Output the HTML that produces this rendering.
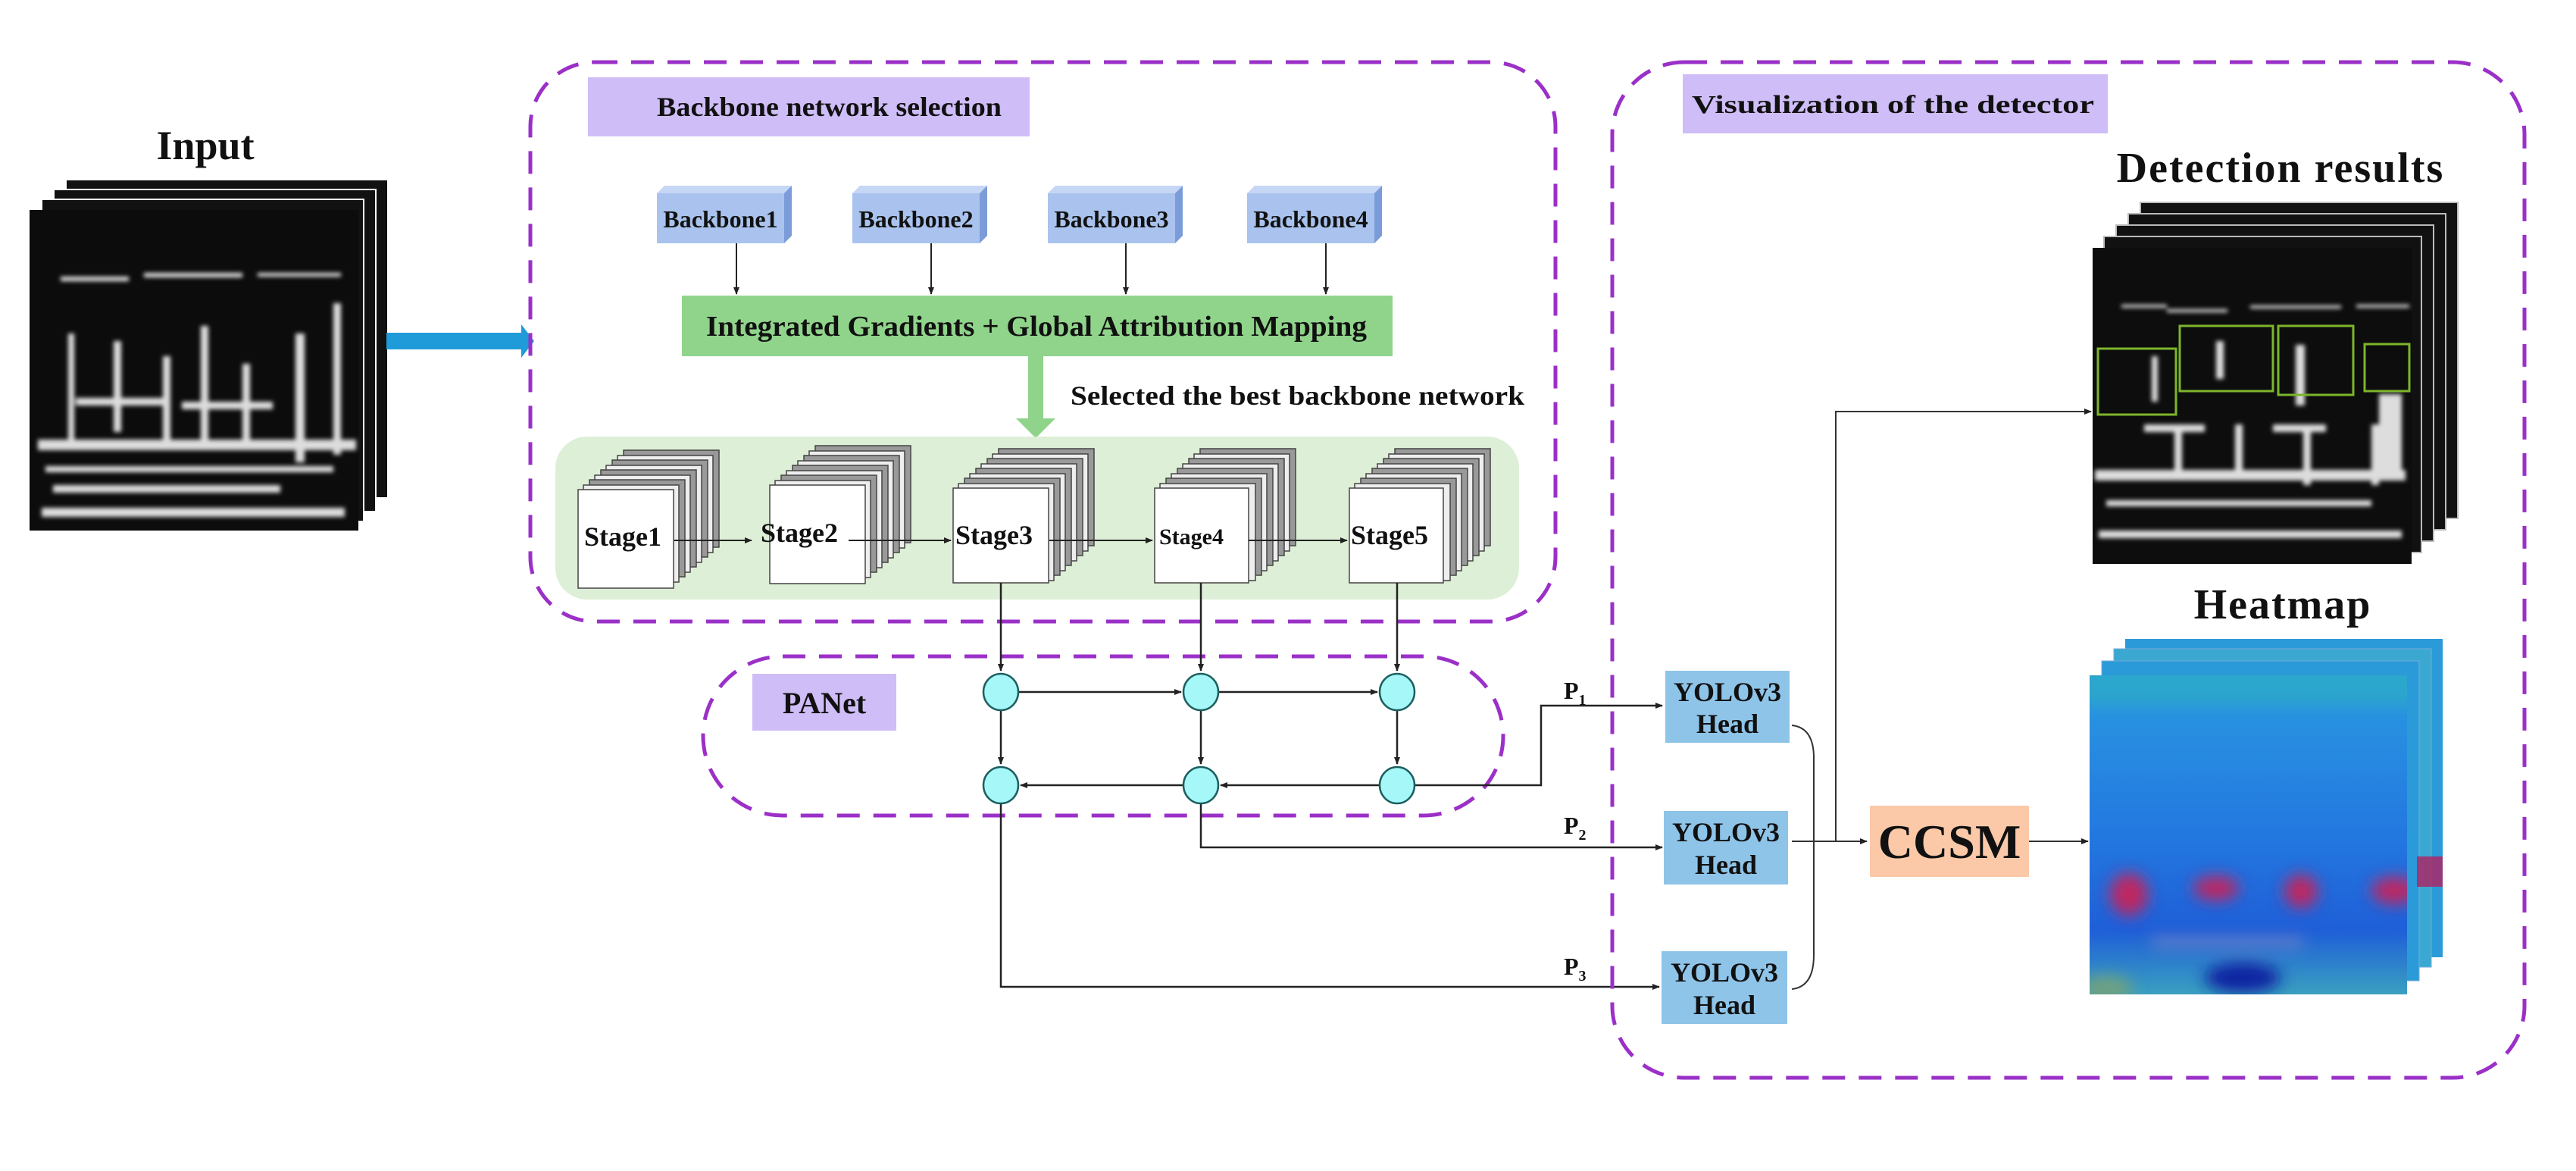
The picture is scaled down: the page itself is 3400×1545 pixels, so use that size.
<!DOCTYPE html>
<html><head><meta charset="utf-8"><style>
html,body{margin:0;padding:0;background:#fff;}
svg{display:block;}
text{font-family:"Liberation Serif",serif;font-weight:bold;fill:#111;}
</style></head><body>
<svg width="3400" height="1545" viewBox="0 0 3400 1545" xmlns="http://www.w3.org/2000/svg">
<defs>
<marker id="ar" markerWidth="10" markerHeight="10" refX="9" refY="5" orient="auto" markerUnits="userSpaceOnUse"><path d="M0,1 L10,5 L0,9 z" fill="#222"/></marker>
<linearGradient id="hm" x1="0" y1="0" x2="0" y2="1">
<stop offset="0" stop-color="#2a9ae0"/><stop offset="0.5" stop-color="#2378e0"/><stop offset="0.8" stop-color="#1f5fd8"/><stop offset="1" stop-color="#3aa0c0"/></linearGradient>
<filter id="bl"><feGaussianBlur stdDeviation="10"/></filter>
<filter id="bl2"><feGaussianBlur stdDeviation="3"/></filter>
<clipPath id="hc"><rect x="2758" y="891" width="419" height="421"/></clipPath>
</defs>

<!-- Input -->
<text x="271" y="210" font-size="54" text-anchor="middle">Input</text>
<g>
<rect x="87" y="237" width="425" height="420" fill="#111" stroke="#fff" stroke-width="2"/>
<rect x="71" y="250" width="425" height="425" fill="#111" stroke="#fff" stroke-width="2"/>
<rect x="55" y="263" width="425" height="425" fill="#111" stroke="#fff" stroke-width="2"/>
<rect x="39" y="277" width="434" height="423" fill="#0c0c0c"/>
<g fill="#ddd" filter="url(#bl2)">
<rect x="80" y="365" width="90" height="6"/><rect x="190" y="360" width="130" height="6"/><rect x="340" y="360" width="110" height="5"/>
<rect x="50" y="580" width="420" height="14"/><rect x="60" y="615" width="380" height="8"/>
<rect x="90" y="440" width="8" height="150"/><rect x="150" y="450" width="10" height="120"/><rect x="215" y="470" width="10" height="110"/><rect x="265" y="430" width="10" height="160"/><rect x="320" y="480" width="10" height="100"/><rect x="390" y="440" width="12" height="170"/><rect x="440" y="400" width="10" height="200"/>
<rect x="100" y="525" width="120" height="10"/><rect x="240" y="530" width="120" height="10"/>
<rect x="70" y="640" width="300" height="10"/><rect x="55" y="670" width="400" height="12"/>
</g>
</g>
<rect x="510" y="439" width="180" height="22" fill="#1e9bd8"/>
<path d="M688,428 L705,450 L688,472 z" fill="#1e9bd8"/>

<!-- Backbone box -->
<rect x="700" y="82" width="1353" height="738" rx="85" fill="none" stroke="#9b30c8" stroke-width="5" stroke-dasharray="30,18"/>
<rect x="776" y="102" width="583" height="78" fill="#cfbdf7"/>
<text x="867" y="153" font-size="36" textLength="455" lengthAdjust="spacingAndGlyphs">Backbone network selection</text>

<g>
<g transform="translate(867,245)"><path d="M0,10 L10,0 L178,0 L168,10 z" fill="#c6d6f5"/><path d="M168,10 L178,0 L178,66 L168,76 z" fill="#7b9cd8"/><rect x="0" y="10" width="168" height="66" fill="#a9c3ee"/><text x="84" y="55" font-size="32" text-anchor="middle">Backbone1</text></g>
<g transform="translate(1125,245)"><path d="M0,10 L10,0 L178,0 L168,10 z" fill="#c6d6f5"/><path d="M168,10 L178,0 L178,66 L168,76 z" fill="#7b9cd8"/><rect x="0" y="10" width="168" height="66" fill="#a9c3ee"/><text x="84" y="55" font-size="32" text-anchor="middle">Backbone2</text></g>
<g transform="translate(1383,245)"><path d="M0,10 L10,0 L178,0 L168,10 z" fill="#c6d6f5"/><path d="M168,10 L178,0 L178,66 L168,76 z" fill="#7b9cd8"/><rect x="0" y="10" width="168" height="66" fill="#a9c3ee"/><text x="84" y="55" font-size="32" text-anchor="middle">Backbone3</text></g>
<g transform="translate(1646,245)"><path d="M0,10 L10,0 L178,0 L168,10 z" fill="#c6d6f5"/><path d="M168,10 L178,0 L178,66 L168,76 z" fill="#7b9cd8"/><rect x="0" y="10" width="168" height="66" fill="#a9c3ee"/><text x="84" y="55" font-size="32" text-anchor="middle">Backbone4</text></g>
</g>
<g stroke="#222" stroke-width="2" marker-end="url(#ar)">
<line x1="972" y1="321" x2="972" y2="388"/><line x1="1229" y1="321" x2="1229" y2="388"/><line x1="1486" y1="321" x2="1486" y2="388"/><line x1="1750" y1="321" x2="1750" y2="388"/>
</g>
<rect x="900" y="390" width="938" height="80" fill="#8fd48a"/>
<text x="932" y="443" font-size="38" textLength="872" lengthAdjust="spacingAndGlyphs">Integrated Gradients + Global Attribution Mapping</text>
<rect x="1357" y="470" width="20" height="85" fill="#8fd48a"/>
<path d="M1341,552 L1393,552 L1367,578 z" fill="#8fd48a"/>
<text x="1413" y="534" font-size="36" textLength="599" lengthAdjust="spacingAndGlyphs">Selected the best backbone network</text>

<rect x="733" y="576" width="1272" height="215" rx="42" fill="#ddefd6"/>

<g stroke="#444" stroke-width="1.5">
<g transform="translate(763,646)">
<rect x="60" y="-52" width="126" height="128" fill="#999"/><rect x="52" y="-45" width="126" height="128" fill="#eee"/><rect x="45" y="-39" width="126" height="128" fill="#999"/><rect x="37" y="-32" width="126" height="128" fill="#eee"/><rect x="30" y="-26" width="126" height="128" fill="#999"/><rect x="22" y="-19" width="126" height="128" fill="#eee"/><rect x="15" y="-13" width="126" height="128" fill="#999"/><rect x="7" y="-6" width="126" height="128" fill="#eee"/>
<rect x="0" y="0" width="126" height="130" fill="#fff"/></g>
<g transform="translate(1016,640)">
<rect x="60" y="-52" width="126" height="128" fill="#999"/><rect x="52" y="-45" width="126" height="128" fill="#eee"/><rect x="45" y="-39" width="126" height="128" fill="#999"/><rect x="37" y="-32" width="126" height="128" fill="#eee"/><rect x="30" y="-26" width="126" height="128" fill="#999"/><rect x="22" y="-19" width="126" height="128" fill="#eee"/><rect x="15" y="-13" width="126" height="128" fill="#999"/><rect x="7" y="-6" width="126" height="128" fill="#eee"/>
<rect x="0" y="0" width="126" height="130" fill="#fff"/></g>
<g transform="translate(1258,644)">
<rect x="60" y="-52" width="126" height="128" fill="#999"/><rect x="52" y="-45" width="126" height="128" fill="#eee"/><rect x="45" y="-39" width="126" height="128" fill="#999"/><rect x="37" y="-32" width="126" height="128" fill="#eee"/><rect x="30" y="-26" width="126" height="128" fill="#999"/><rect x="22" y="-19" width="126" height="128" fill="#eee"/><rect x="15" y="-13" width="126" height="128" fill="#999"/><rect x="7" y="-6" width="126" height="128" fill="#eee"/>
<rect x="0" y="0" width="126" height="125" fill="#fff"/></g>
<g transform="translate(1524,644)">
<rect x="60" y="-52" width="126" height="128" fill="#999"/><rect x="52" y="-45" width="126" height="128" fill="#eee"/><rect x="45" y="-39" width="126" height="128" fill="#999"/><rect x="37" y="-32" width="126" height="128" fill="#eee"/><rect x="30" y="-26" width="126" height="128" fill="#999"/><rect x="22" y="-19" width="126" height="128" fill="#eee"/><rect x="15" y="-13" width="126" height="128" fill="#999"/><rect x="7" y="-6" width="126" height="128" fill="#eee"/>
<rect x="0" y="0" width="124" height="125" fill="#fff"/></g>
<g transform="translate(1781,644)">
<rect x="60" y="-52" width="126" height="128" fill="#999"/><rect x="52" y="-45" width="126" height="128" fill="#eee"/><rect x="45" y="-39" width="126" height="128" fill="#999"/><rect x="37" y="-32" width="126" height="128" fill="#eee"/><rect x="30" y="-26" width="126" height="128" fill="#999"/><rect x="22" y="-19" width="126" height="128" fill="#eee"/><rect x="15" y="-13" width="126" height="128" fill="#999"/><rect x="7" y="-6" width="126" height="128" fill="#eee"/>
<rect x="0" y="0" width="124" height="125" fill="#fff"/></g>
</g>
<g font-size="36">
<text x="771" y="720">Stage1</text>
<text x="1004" y="715">Stage2</text>
<text x="1261" y="718">Stage3</text>
<text x="1530" y="718" font-size="30">Stage4</text>
<text x="1783" y="718">Stage5</text>
</g>
<g stroke="#222" stroke-width="2" marker-end="url(#ar)">
<line x1="890" y1="713" x2="992" y2="713"/>
<line x1="1120" y1="713" x2="1255" y2="713"/>
<line x1="1385" y1="713" x2="1521" y2="713"/>
<line x1="1648" y1="713" x2="1778" y2="713"/>
</g>

<!-- PANet -->
<rect x="928" y="866" width="1056" height="210" rx="105" fill="none" stroke="#9b30c8" stroke-width="5" stroke-dasharray="30,18"/>
<rect x="993" y="889" width="190" height="75" fill="#cfbdf7"/>
<text x="1088" y="941" font-size="40" text-anchor="middle">PANet</text>

<g stroke="#222" stroke-width="2.5" fill="none">
<line x1="1321" y1="769" x2="1321" y2="885" marker-end="url(#ar)"/>
<line x1="1585" y1="769" x2="1585" y2="885" marker-end="url(#ar)"/>
<line x1="1844" y1="769" x2="1844" y2="885" marker-end="url(#ar)"/>
<line x1="1345" y1="913" x2="1559" y2="913" marker-end="url(#ar)"/>
<line x1="1609" y1="913" x2="1818" y2="913" marker-end="url(#ar)"/>
<line x1="1321" y1="937" x2="1321" y2="1008" marker-end="url(#ar)"/>
<line x1="1585" y1="937" x2="1585" y2="1008" marker-end="url(#ar)"/>
<line x1="1844" y1="937" x2="1844" y2="1008" marker-end="url(#ar)"/>
<line x1="1820" y1="1036" x2="1611" y2="1036" marker-end="url(#ar)"/>
<line x1="1561" y1="1036" x2="1347" y2="1036" marker-end="url(#ar)"/>
<polyline points="1868,1036 2034,1036 2034,931 2194,931" marker-end="url(#ar)"/>
<polyline points="1585,1060 1585,1118 2194,1118" marker-end="url(#ar)"/>
<polyline points="1321,1060 1321,1302 2190,1302" marker-end="url(#ar)"/>
</g>
<g fill="#a6f8f8" stroke="#1d5f60" stroke-width="2.5">
<ellipse cx="1321" cy="913" rx="23" ry="24"/><ellipse cx="1585" cy="913" rx="23" ry="24"/><ellipse cx="1844" cy="913" rx="23" ry="24"/>
<ellipse cx="1321" cy="1036" rx="23" ry="24"/><ellipse cx="1585" cy="1036" rx="23" ry="24"/><ellipse cx="1844" cy="1036" rx="23" ry="24"/>
</g>
<g font-size="32">
<text x="2064" y="922">P<tspan font-size="20" dy="8">1</tspan></text>
<text x="2064" y="1100">P<tspan font-size="20" dy="8">2</tspan></text>
<text x="2064" y="1286">P<tspan font-size="20" dy="8">3</tspan></text>
</g>

<!-- Visualization box -->
<rect x="2128" y="82" width="1204" height="1340" rx="95" fill="none" stroke="#9b30c8" stroke-width="5" stroke-dasharray="30,18"/>
<rect x="2221" y="98" width="561" height="78" fill="#cfbdf7"/>
<text x="2233" y="149" font-size="34" textLength="531" lengthAdjust="spacingAndGlyphs">Visualization of the detector</text>

<g fill="#8ec4e8">
<rect x="2198" y="885" width="164" height="95"/>
<rect x="2196" y="1070" width="164" height="97"/>
<rect x="2193" y="1255" width="166" height="96"/>
</g>
<g font-size="36" text-anchor="middle">
<text x="2280" y="925">YOLOv3</text><text x="2280" y="967">Head</text>
<text x="2278" y="1110">YOLOv3</text><text x="2278" y="1153">Head</text>
<text x="2276" y="1295">YOLOv3</text><text x="2276" y="1338">Head</text>
</g>
<g stroke="#333" stroke-width="2" fill="none">
<path d="M2365,957 Q2394,960 2394,1000 L2394,1260 Q2394,1302 2365,1305"/>
<line x1="2365" y1="1110" x2="2394" y2="1110"/>
<line x1="2394" y1="1110" x2="2464" y2="1110" marker-end="url(#ar)"/>
<polyline points="2423,1110 2423,543 2760,543" marker-end="url(#ar)"/>
<line x1="2678" y1="1110" x2="2756" y2="1110" marker-end="url(#ar)"/>
</g>
<rect x="2468" y="1063" width="210" height="94" fill="#fbc9a8"/>
<text x="2573" y="1132" font-size="64" text-anchor="middle">CCSM</text>

<!-- Detection results -->
<text x="3010" y="240" font-size="56" text-anchor="middle" letter-spacing="2">Detection results</text>
<g stroke="#bbb" stroke-width="2">
<rect x="2825" y="267" width="419" height="417" fill="#111"/>
<rect x="2809" y="282" width="419" height="417" fill="#111"/>
<rect x="2793" y="297" width="419" height="417" fill="#111"/>
<rect x="2777" y="312" width="419" height="417" fill="#111"/>
</g>
<rect x="2762" y="327" width="421" height="417" fill="#0d0d0d"/>
<g fill="#ddd" filter="url(#bl2)">
<rect x="2800" y="402" width="60" height="4"/><rect x="2860" y="408" width="80" height="4"/><rect x="2970" y="403" width="120" height="4"/><rect x="3110" y="402" width="70" height="4"/>
<rect x="2765" y="620" width="410" height="14"/><rect x="2780" y="660" width="350" height="8"/>
<rect x="2840" y="470" width="8" height="60"/><rect x="2925" y="450" width="10" height="50"/><rect x="3030" y="455" width="12" height="80"/>
<rect x="2870" y="560" width="10" height="70"/><rect x="2950" y="560" width="10" height="70"/><rect x="3040" y="560" width="10" height="80"/><rect x="3130" y="560" width="10" height="80"/>
<rect x="2830" y="560" width="80" height="10"/><rect x="3000" y="560" width="70" height="10"/><rect x="3140" y="520" width="30" height="100"/>
<rect x="2770" y="700" width="400" height="10"/>
</g>
<g fill="none" stroke="#7db52a" stroke-width="3">
<rect x="2769" y="460" width="103" height="87"/>
<rect x="2877" y="430" width="123" height="86"/>
<rect x="3007" y="430" width="99" height="91"/>
<rect x="3121" y="454" width="59" height="62"/>
</g>

<!-- Heatmap -->
<text x="3013" y="816" font-size="56" text-anchor="middle" letter-spacing="2">Heatmap</text>
<rect x="2805" y="843" width="419" height="420" fill="#2b9ad8"/>
<rect x="2790" y="856" width="419" height="420" fill="#3aa8d0" stroke="#7ad" stroke-width="1"/>
<rect x="2774" y="872" width="419" height="422" fill="#2b9ad8" stroke="#7ad" stroke-width="1"/>
<rect x="3190" y="1130" width="34" height="40" fill="#b02060" opacity="0.8"/>
<rect x="2758" y="891" width="419" height="421" fill="url(#hm)"/>
<g clip-path="url(#hc)">
<g filter="url(#bl)">
<rect x="2740" y="880" width="460" height="50" fill="#2bb0c0" opacity="0.6"/>
<ellipse cx="2810" cy="1180" rx="25" ry="28" fill="#c02860"/>
<ellipse cx="2925" cy="1172" rx="30" ry="16" fill="#c02860"/>
<ellipse cx="3037" cy="1176" rx="22" ry="22" fill="#c02860"/>
<ellipse cx="3160" cy="1175" rx="30" ry="18" fill="#c02860"/>
<ellipse cx="2960" cy="1290" rx="50" ry="20" fill="#0a20a0"/>
<ellipse cx="2780" cy="1305" rx="35" ry="18" fill="#70a080"/>
<rect x="2840" y="1238" width="200" height="10" fill="#a090c0" opacity="0.7"/>
</g>
</g>
</svg>
</body></html>
